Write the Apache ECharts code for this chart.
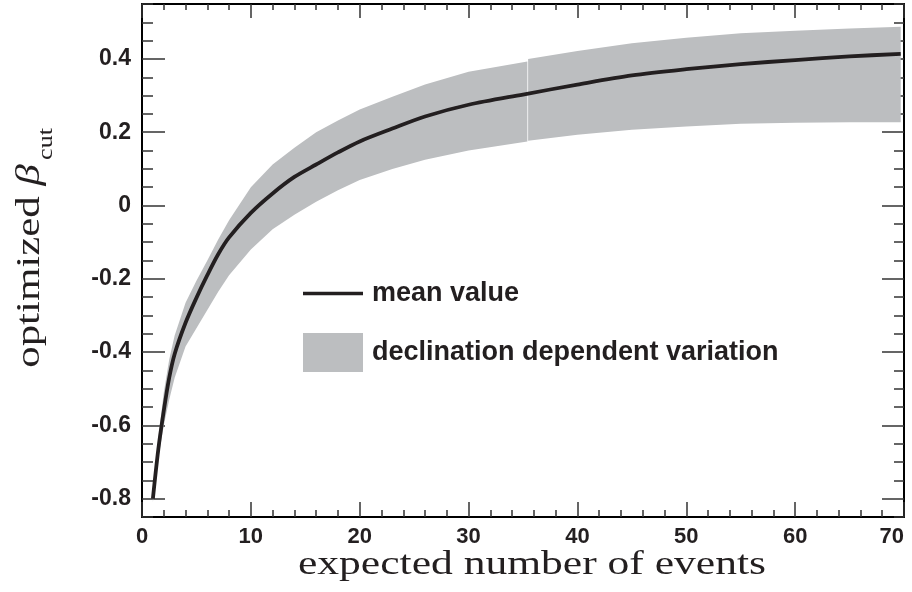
<!DOCTYPE html>
<html><head><meta charset="utf-8">
<script src="https://cdn.jsdelivr.net/npm/echarts@6/dist/echarts.min.js"></script>
<style>html,body{margin:0;padding:0;background:#fff}#c{width:912px;height:592px}</style>
</head><body><div id="c"></div>
<script>
// ---- data ----
const meanX = [1, 1.5, 2, 2.5, 3, 4, 5, 6, 7, 8, 10, 12, 14, 16, 18, 20, 23, 26, 30, 35, 40, 45, 50, 55, 60, 65, 69.7];
const meanY = [-0.80, -0.665, -0.56, -0.47, -0.405, -0.32, -0.252, -0.19, -0.133, -0.087, -0.02, 0.033, 0.078, 0.112, 0.145, 0.175, 0.21, 0.243, 0.275, 0.303, 0.33, 0.355, 0.372, 0.386, 0.397, 0.407, 0.414];

const bandLeftX     = [1, 1.5, 2, 2.5, 3, 4, 5, 6, 7, 8, 10, 12, 14, 16, 18, 20, 23, 26, 30, 35.4];
const bandLeftUpper = [-0.79, -0.635, -0.51, -0.42, -0.355, -0.265, -0.205, -0.15, -0.093, -0.04, 0.05, 0.112, 0.158, 0.20, 0.232, 0.262, 0.297, 0.33, 0.365, 0.393];
const bandLeftLower = [-0.81, -0.69, -0.60, -0.53, -0.47, -0.385, -0.335, -0.285, -0.235, -0.19, -0.12, -0.065, -0.025, 0.01, 0.042, 0.07, 0.10, 0.125, 0.15, 0.175];

const bandRightX     = [35.47, 40, 45, 50, 55, 60, 65, 69.7];
const bandRightUpper = [0.400, 0.422, 0.443, 0.458, 0.470, 0.477, 0.483, 0.488];
const bandRightLower = [0.177, 0.193, 0.207, 0.216, 0.223, 0.226, 0.227, 0.227];

const xTickValues = [0, 10, 20, 30, 40, 50, 60, 70];
const yTickValues = [-0.8, -0.6, -0.4, -0.2, 0, 0.2, 0.4];
const yTickLabels = ['-0.8', '-0.6', '-0.4', '-0.2', '0', '0.2', '0.4'];

const seriesNames = ['mean value', 'declination dependent variation'];
const xTitle = 'expected number of events';
const yTitleMain = 'optimized ';
const yTitleSymbol = 'β';
const yTitleSub = 'cut';

// ---- chart ----
const TXT = '#231f20';
const BAND = '#bcbec0';
const SANS = '"Liberation Sans", Arial, sans-serif';
const SERIF = '"Liberation Serif", "Times New Roman", serif';
const X_MIN = 0, X_MAX = 70, Y_MIN = -0.85, Y_MAX = 0.55;

const segments = [
  { x: bandLeftX, up: bandLeftUpper, lo: bandLeftLower },
  { x: bandRightX, up: bandRightUpper, lo: bandRightLower }
];

function yLabel(v) {
  const i = yTickValues.findIndex(t => Math.abs(t - v) < 1e-9);
  return i >= 0 ? yTickLabels[i] : '';
}

const tickLine = { color: '#333', width: 1.5 };
const legendText = { fontSize: 27, fontWeight: 'bold', fontFamily: SANS, color: TXT, padding: [0, 0, 0, 4] };

const chart = echarts.init(document.getElementById('c'), null, { renderer: 'canvas' });
chart.setOption({
  animation: false,
  backgroundColor: '#fff',
  grid: { left: 142, right: 8, top: 4, bottom: 75, containLabel: false, outerBoundsMode: 'none' },
  xAxis: [
    {
      type: 'value', position: 'bottom', min: X_MIN, max: X_MAX, interval: 10,
      axisLine: { onZero: false, lineStyle: { color: '#000', width: 2 } },
      axisTick: { inside: true, length: 15, lineStyle: tickLine },
      minorTick: { show: true, splitNumber: 5, length: 7, lineStyle: tickLine },
      axisLabel: { margin: 9, fontSize: 22, fontWeight: 'bold', fontFamily: SANS, color: TXT,
        customValues: xTickValues, alignMaxLabel: 'right' },
      splitLine: { show: false }
    },
    {
      type: 'value', position: 'top', min: X_MIN, max: X_MAX, interval: 10,
      axisLine: { onZero: false, lineStyle: { color: '#000', width: 2 } },
      axisTick: { inside: true, length: 14, lineStyle: tickLine },
      minorTick: { show: true, splitNumber: 5, length: 6, lineStyle: tickLine },
      axisLabel: { show: false },
      splitLine: { show: false }
    }
  ],
  yAxis: [
    {
      type: 'value', position: 'left', min: Y_MIN, max: Y_MAX,
      axisLine: { onZero: false, lineStyle: { color: '#000', width: 2 } },
      axisTick: { inside: true, length: 23, lineStyle: tickLine, customValues: yTickValues },
      axisLabel: { margin: 11, fontSize: 23, fontWeight: 'bold', fontFamily: SANS, color: TXT,
        customValues: yTickValues, formatter: yLabel },
      splitLine: { show: false }
    },
    {
      type: 'value', position: 'left', min: Y_MIN, max: Y_MAX, interval: 0.05,
      axisLine: { show: false, onZero: false },
      axisTick: { inside: true, length: 11, lineStyle: tickLine },
      axisLabel: { show: false },
      splitLine: { show: false }
    },
    {
      type: 'value', position: 'right', min: Y_MIN, max: Y_MAX,
      axisLine: { onZero: false, lineStyle: { color: '#000', width: 2 } },
      axisTick: { inside: true, length: 22, lineStyle: tickLine, customValues: yTickValues },
      axisLabel: { show: false },
      splitLine: { show: false }
    },
    {
      type: 'value', position: 'right', min: Y_MIN, max: Y_MAX, interval: 0.05,
      axisLine: { show: false, onZero: false },
      axisTick: { inside: true, length: 10, lineStyle: tickLine },
      axisLabel: { show: false },
      splitLine: { show: false }
    }
  ],
  legend: [
    {
      orient: 'vertical', left: 303, top: 280, padding: 0,
      itemWidth: 60, itemHeight: 3.5,
      selectedMode: false,
      textStyle: legendText,
      data: [{ name: seriesNames[0], icon: 'rect' }]
    },
    {
      orient: 'vertical', left: 303, top: 333, padding: 0,
      itemWidth: 60, itemHeight: 39,
      selectedMode: false,
      textStyle: legendText,
      data: [{ name: seriesNames[1], icon: 'rect' }]
    }
  ],
  series: [
    {
      name: seriesNames[1],
      type: 'custom',
      xAxisIndex: 0, yAxisIndex: 0,
      itemStyle: { color: BAND },
      z: 1,
      data: segments.map(s => [s.x[0], s.up[0]]),
      renderItem: function (params, api) {
        const s = segments[params.dataIndex];
        const pts = [];
        for (let i = 0; i < s.x.length; i++) pts.push(api.coord([s.x[i], s.up[i]]));
        for (let i = s.x.length - 1; i >= 0; i--) pts.push(api.coord([s.x[i], s.lo[i]]));
        return { type: 'polygon', shape: { points: pts }, style: { fill: BAND } };
      }
    },
    {
      name: seriesNames[0],
      type: 'line',
      xAxisIndex: 0, yAxisIndex: 0,
      z: 3,
      symbol: 'none', showSymbol: false,
      smooth: 0.3,
      lineStyle: { color: TXT, width: 3.8 },
      itemStyle: { color: TXT },
      data: meanX.map((x, i) => [x, meanY[i]])
    }
  ],
  graphic: [
    {
      type: 'text', x: 532, y: 565, scaleX: 1.32,
      style: { text: xTitle, fontSize: 33, fontFamily: SERIF, fill: TXT, align: 'center', verticalAlign: 'middle' }
    },
    {
      type: 'text', x: 30, y: 266, rotation: Math.PI / 2, scaleX: 1.3,
      style: {
        text: '{n|' + yTitleMain + '}{b|' + yTitleSymbol + '}',
        align: 'center', verticalAlign: 'middle', fill: TXT,
        rich: {
          n: { fontSize: 33, fontFamily: SERIF, fill: TXT },
          b: { fontSize: 33, fontFamily: SERIF, fontStyle: 'italic', fill: TXT }
        }
      }
    },
    {
      type: 'text', x: 47, y: 144, rotation: Math.PI / 2, scaleX: 1.3,
      style: { text: yTitleSub, fontSize: 20, fontFamily: SERIF, fill: TXT, align: 'center', verticalAlign: 'middle' }
    }
  ]
});
</script>
</body></html>
